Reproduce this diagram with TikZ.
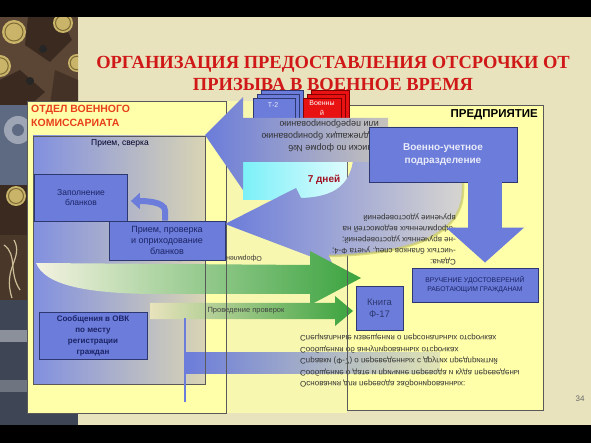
\documentclass[tikz,border=0pt]{standalone}
\usepackage{fontspec}
\setmainfont{Liberation Sans}
\newfontfamily\titlefont{Liberation Serif}
\usetikzlibrary{arrows.meta}
\definecolor{bg}{HTML}{E8E3BC}
\definecolor{ylw}{HTML}{FFFFAA}
\definecolor{bbox}{HTML}{6B7CDA}
\definecolor{bedge}{HTML}{2E3870}
\definecolor{ttl}{HTML}{D01818}
\definecolor{grn}{HTML}{3AA33E}
\definecolor{navy}{HTML}{1C2466}
\definecolor{okred}{HTML}{E8401A}
\definecolor{gry}{HTML}{C6C3BC}
\definecolor{inr}{HTML}{D9D4B4}
\definecolor{cyn}{HTML}{7CF0F8}
\definecolor{redbox}{HTML}{E81212}
\definecolor{ph1}{HTML}{5B4535}
\definecolor{ph2}{HTML}{3A2A20}
\definecolor{ph3}{HTML}{5D6A82}
\definecolor{ph4}{HTML}{3E4656}
\definecolor{gold}{HTML}{C9B46A}
\definecolor{golddk}{HTML}{7E6C34}
\definecolor{cream}{HTML}{CDBE98}
\definecolor{dred}{HTML}{A01020}
\tikzset{
  ybox/.style={draw=black!65, line width=0.8pt, fill=ylw, inner sep=0pt},
  bluebox/.style={draw=bedge, line width=0.8pt, fill=bbox, inner sep=1pt, align=center, text=navy},
  fliptext/.style={align=left, inner sep=0pt, text=black!80},
  boxline/.style={draw=black!65, line width=0.8pt},
}
\begin{document}
\begin{tikzpicture}[x=1pt,y=-1pt]
\useasboundingbox (0,0) rectangle (591,443);
\fill[bg] (0,0) rectangle (591,443);
% photo strip
\begin{scope}
\clip (0,17) rectangle (78,425);
\fill[ph1] (0,17) rectangle (78,105);
\fill[ph2] (28,17) -- (60,17) -- (72,40) -- (50,62) -- (25,45) -- cycle;
\fill[ph2] (0,80) -- (20,70) -- (45,92) -- (30,105) -- (0,105) -- cycle;
\fill[ph2!70!ph1] (55,70) -- (78,80) -- (78,105) -- (50,105) -- cycle;
\fill[ph3] (0,105) rectangle (78,185);
\fill[ph3!60!white] (18,130) circle (14);
\fill[ph3] (18,130) circle (6);
\fill[ph2] (0,185) rectangle (78,235);
\fill[ph1!80!black] (0,235) rectangle (78,300);
\draw[cream, line width=1.2pt] (4,245) .. controls (18,255) and (8,272) .. (20,290);
\draw[cream, line width=1.2pt] (14,240) .. controls (24,258) and (2,268) .. (12,298);
\fill[ph4] (0,300) rectangle (78,425);
\fill[ph4!60!white] (0,330) rectangle (27,342);
\fill[ph4!75!white] (0,380) rectangle (27,392);
\foreach \x/\y/\r in {14/32/12, 63/23/10, 77/63/9, 0/66/11, 16/196/10} {
  \fill[gold] (\x,\y) circle (\r);
  \draw[golddk, line width=1pt] (\x,\y) circle (\r*0.75);
}
\fill[black!85] (43,49) circle (4);
\fill[black!85] (30,81) circle (4);
\end{scope}
\fill[black] (0,0) rectangle (591,17);
\fill[black] (0,425) rectangle (591,443);
% title
\node[font=\titlefont\bfseries\fontsize{18.5}{22}\selectfont, text=ttl, align=center] (title) at (333,73) {ОРГАНИЗАЦИЯ ПРЕДОСТАВЛЕНИЯ ОТСРОЧКИ ОТ\\ПРИЗЫВА В ВОЕННОЕ ВРЕМЯ};
% panels
\fill[ylw!70!bg] (226,101) rectangle (347,413);
\node[ybox, minimum width=199pt, minimum height=312pt] (okbox) at (126.5,257) {};
\node[ybox, minimum width=196pt, minimum height=305pt] (pred) at (445,257.5) {};
\node[draw=black!65, line width=0.8pt, left color=bbox!85!white, right color=inr, minimum width=172pt, minimum height=248pt, inner sep=0pt] (inner) at (119,260) {};
\shade[left color=cyn, right color=cyn!25!white] (243,140) rectangle (347,200);
% stacks
\foreach \d in {8,4,0} \draw[bedge, fill=bbox, line width=0.6pt] (253+\d,98-\d) rectangle (295+\d,126-\d);
\node[text=white!85!bbox, font=\fontsize{7}{8}\selectfont] (t2) at (273,105) {Т-2};
\foreach \d in {8,4,0} \draw[red!50!black, fill=redbox, line width=0.6pt] (303+\d,98-\d) rectangle (341+\d,126-\d);
\node[text=white, font=\fontsize{7}{10}\selectfont, align=center] (voen) at (322,108) {Военны\\й};
% partly hidden text
\node[fliptext, rotate=180, anchor=south west, font=\fontsize{7}{8}\selectfont] (oform) at (262,255) {Оформление ведомостей};
% curved arrow
\shade[left color=bbox, right color=gry!70!white] (225,224) -- (296,188) -- (301,198) .. controls (335,197) and (353,185) .. (354,150) -- (354,127) -- (463,127) -- (463,190) .. controls (463,240) and (400,254) .. (329,256) -- (333,265) -- cycle;
\draw[ylw!60!olive, line width=2.5pt, opacity=0.7] (463,127) -- (463,190) .. controls (463,240) and (400,254) .. (329,256);
% upper arrow
\shade[left color=bbox, right color=gry] (205,135) -- (243,97) -- (243,118) -- (388,118) -- (388,162) -- (243,162) -- (243,190) -- cycle;
\node[fliptext, rotate=180, anchor=south west, font=\fontsize{9}{12}\selectfont] (uptxt) at (379,119) {Списки по форме №6\\подлежащих бронированию\\или перебронированию};
\node[fliptext, rotate=180, anchor=south west, font=\fontsize{8}{11}\selectfont] (sdtxt) at (456,214) {Сдача:\\-чистых бланков спец. учета Ф-4;\\-не врученных удостоверений;\\-оформленных ведомостей на\\вручение удостоверений};
% green arrows
\shade[left color=white!55!bg, middle color=grn!75!white, right color=grn] (36,263) -- (310,265) -- (310,251) -- (361,278) -- (310,305) -- (310,294) -- (150,294) .. controls (85,293) and (45,285) .. (36,263) -- cycle;
\shade[left color=bg, right color=grn] (150,303) -- (335,303) -- (335,296) -- (353,311) -- (335,326) -- (335,319) -- (150,319) -- cycle;
\node[font=\fontsize{7.5}{9}\selectfont, text=black!75] (prov) at (246,311) {Проведение проверок};
% lower blue arrow
\shade[left color=bbox, right color=bbox!20!ylw] (185,352) rectangle (440,373);
\draw[bbox, line width=2.5pt] (185,318) -- (185,402);
\node[fliptext, yscale=-1, anchor=south west, font=\fontsize{8}{11.5}\selectfont] (lowtxt) at (300,334) {Основания для перевода забронированных:\\Сообщение о дате и причине перевода и куда переведены\\Справки (Ф-7) о переведенных с других предприятий\\Сообщения об аннулированных отсрочках\\Специальные извещения о персональных отсрочках};
% box edges seen through arrows
\draw[boxline] (205,262) -- (205,384);
\draw[boxline] (226,262) -- (226,413);
\draw[boxline] (347,262) -- (347,410);
% labels
\node[anchor=north west, inner sep=0pt, align=left, text=okred, font=\bfseries\fontsize{10.5}{14}\selectfont] (oklbl) at (31,105) {ОТДЕЛ ВОЕННОГО\\КОМИССАРИАТА};
\node[anchor=east, inner sep=0pt, font=\bfseries\fontsize{11.5}{13}\selectfont] (predlbl) at (538,115) {ПРЕДПРИЯТИЕ};
\node[text=black!85!blue, font=\fontsize{8.5}{10}\selectfont] (sverka) at (120,143) {Прием, сверка};
\node[text=dred, font=\bfseries\fontsize{10}{12}\selectfont] (days) at (324,180) {7 дней};
% blue boxes
\node[bluebox, minimum width=93pt, minimum height=47pt, font=\fontsize{8.5}{10}\selectfont] (zap) at (81,197.5) {Заполнение\\бланков};
\node[bluebox, minimum width=116pt, minimum height=39pt, font=\fontsize{9}{11}\selectfont] (priem) at (167,240.5) {Прием, проверка\\и оприходование\\бланков};
\node[bluebox, minimum width=108pt, minimum height=47pt, font=\bfseries\fontsize{8}{11}\selectfont] (soob) at (93,335.5) {Сообщения в ОВК\\по месту\\регистрации\\граждан};
\node[bluebox, minimum width=148pt, minimum height=55pt, text=white!85!bbox, font=\bfseries\fontsize{10}{13}\selectfont] (vuch) at (443,154.5) {Военно-учетное\\подразделение};
\node[bluebox, minimum width=126pt, minimum height=34pt, font=\fontsize{6.8}{9}\selectfont] (vruch) at (475,285) {ВРУЧЕНИЕ УДОСТОВЕРЕНИЙ\\РАБОТАЮЩИМ ГРАЖДАНАМ};
\node[bluebox, minimum width=47pt, minimum height=44pt, text=bedge, font=\fontsize{9.5}{12}\selectfont] (kniga) at (379.5,308) {Книга\\Ф-17};
% connectors
\draw[bbox, line width=34pt, -{Triangle[length=35pt,width=76pt]}] ([xshift=42pt]vuch.south) -- ([xshift=10pt,yshift=5pt]vruch.north);
\draw[bbox, line width=6pt, -{Triangle[length=9pt,width=16pt]}] ([xshift=-2pt]priem.north) -- ++(0,-10) .. controls +(0,-9) and +(14,0) .. ([xshift=3pt,yshift=-3.5pt]zap.east);
\node[text=black!60, font=\fontsize{8}{10}\selectfont] (pg) at (580,399) {34};
\end{tikzpicture}
\end{document}
